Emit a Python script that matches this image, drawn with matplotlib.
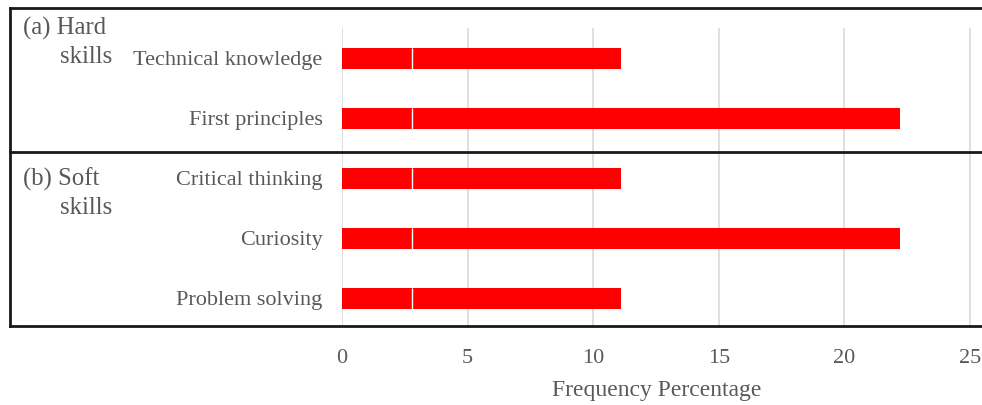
import matplotlib.pyplot as plt
from matplotlib.lines import Line2D

plt.rcParams['font.family'] = ['Liberation Serif', 'DejaVu Serif']

skills = ["Technical knowledge", "First principles", "Critical thinking",
          "Curiosity", "Problem solving"]
frequency = [11.11, 22.22, 11.11, 22.22, 11.11]
first_part = [2.78, 2.78, 2.78, 2.78, 2.78]
x_ticks = [0, 5, 10, 15, 20, 25]

W, H = 982, 405
grey = "#595959"
red = "#ff0000"

fig = plt.figure(figsize=(W / 100, H / 100), dpi=100)
# axes box in pixels: left 342, right 972, top 28, bottom 328
ax = fig.add_axes([342 / W, (H - 328) / H, (972 - 342) / W, 300 / H])

ypos = list(range(len(skills)))
rest = [f - p for f, p in zip(frequency, first_part)]
bh = 0.35
ax.barh(ypos, first_part, height=bh, color=red, zorder=3)
ax.barh(ypos, rest, left=first_part, height=bh, color=red, zorder=3)
ax.vlines(first_part, [y - bh / 2 for y in ypos], [y + bh / 2 for y in ypos],
          colors="white", linewidth=1, zorder=4)

ax.set_xlim(0, 25.08)
ax.set_ylim(len(skills) - 0.5, -0.5)
ax.set_xticks(x_ticks)
ax.set_yticks(ypos)
ax.set_yticklabels(skills)
ax.grid(axis="x", color="#d9d9d9", linewidth=1.2, zorder=0)
ax.set_axisbelow(True)
for s in ax.spines.values():
    s.set_visible(False)
ax.tick_params(axis="y", length=0, pad=14, labelsize=16, labelcolor=grey)
ax.tick_params(axis="x", length=0, pad=15, labelsize=16, labelcolor=grey)
ax.set_xlabel("Frequency Percentage", fontsize=17, color=grey, labelpad=9)


def px(x, y):
    return x / W, 1 - y / H


# frame around the two skill groups
for (x0, y0), (x1, y1) in [((10, 8), (982, 8)), ((10, 152), (982, 152)),
                           ((10, 326), (982, 326)), ((10, 8), (10, 326))]:
    a, b = px(x0, y0)
    c, d = px(x1, y1)
    fig.add_artist(Line2D([a, c], [b, d], color="#1a1a1a", linewidth=2))

group_labels = [("(a) Hard", 23, 28), ("skills", 60, 57),
                ("(b) Soft", 23, 179), ("skills", 60, 208)]
for txt, gx, gy in group_labels:
    fx, fy = px(gx, gy)
    fig.text(fx, fy, txt, fontsize=17.8, color=grey, ha="left", va="center")

plt.savefig("out.png", dpi=100)
